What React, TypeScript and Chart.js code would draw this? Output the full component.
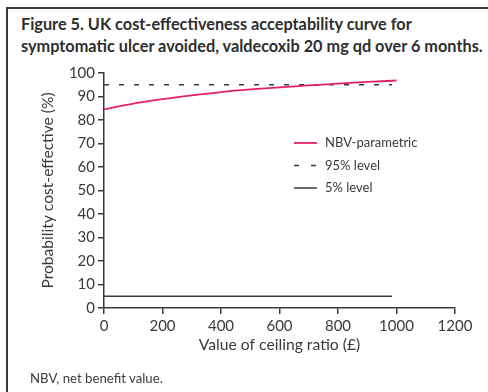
import React, { useEffect, useRef } from "react";
import { Chart, registerables } from "chart.js";

Chart.register(...registerables);

// Ceiling ratio (£) at which the probability was evaluated
const ceilingRatios = [0, 100, 200, 300, 400, 500, 600, 700, 800, 900, 1000];
// Probability cost-effective (%) for the NBV-parametric approach
const nbvParametric = [84.5, 87.0, 88.9, 90.5, 91.9, 93.0, 93.9, 94.7, 95.5, 96.2, 96.8];
// Reference levels drawn across the ceiling range
const levelRange = [0, 985];
const upperLevel = 95;
const lowerLevel = 5;

const xTicks = { min: 0, max: 1200, step: 200 };
const yTicks = { min: 0, max: 100, step: 10 };

const seriesLabels = ["NBV-parametric", "95% level", "5% level"];

const INK = "#3a3a3a";
const PINK = "#e3245c";
const FONT = "Lato";

// Legend drawn inside the plot area, to the right of centre
const insideLegend = {
  id: "insideLegend",
  afterDatasetsDraw(chart: any) {
    const { ctx, chartArea } = chart;
    const x0 = chartArea.left + 190;
    const sampleLen = 23;
    const y0 = chartArea.top + 70;
    const rowGap = 22.5;
    ctx.save();
    ctx.font = `13px ${FONT}`;
    ctx.textBaseline = "middle";
    ctx.fillStyle = INK;
    chart.data.datasets.forEach((ds: any, i: number) => {
      const y = y0 + i * rowGap;
      ctx.beginPath();
      ctx.strokeStyle = ds.borderColor;
      ctx.lineWidth = ds.borderWidth;
      if (ds.borderDash && ds.borderDash.length) {
        ctx.setLineDash([5, 12]);
      } else {
        ctx.setLineDash([]);
      }
      ctx.moveTo(x0, y);
      ctx.lineTo(x0 + sampleLen, y);
      ctx.stroke();
      ctx.setLineDash([]);
      ctx.fillText(ds.label, x0 + sampleLen + 8, y);
    });
    ctx.restore();
  },
};

export default function App() {
  const ref = useRef<HTMLCanvasElement>(null);

  useEffect(() => {
    if (!ref.current) return;
    const curve = ceilingRatios.map((x, i) => ({ x, y: nbvParametric[i] }));
    const upper = levelRange.map((x) => ({ x, y: upperLevel }));
    const lower = levelRange.map((x) => ({ x, y: lowerLevel }));

    const axisCommon = {
      grid: {
        drawOnChartArea: false,
        drawTicks: true,
        tickLength: 6,
        color: INK,
        lineWidth: 1.5,
      },
      border: { display: true, color: INK, width: 1.5 },
    };

    const plainNumber = (v: number | string) => String(v);

    const chart = new Chart(ref.current, {
      type: "line",
      data: {
        datasets: [
          {
            label: seriesLabels[0],
            data: curve,
            borderColor: PINK,
            borderWidth: 1.8,
            pointRadius: 0,
            cubicInterpolationMode: "monotone",
          },
          {
            label: seriesLabels[1],
            data: upper,
            borderColor: INK,
            borderWidth: 1.5,
            borderDash: [5, 10],
            pointRadius: 0,
          },
          {
            label: seriesLabels[2],
            data: lower,
            borderColor: INK,
            borderWidth: 1.5,
            pointRadius: 0,
          },
        ],
      },
      options: {
        responsive: false,
        animation: false,
        layout: { padding: { left: 35, top: 73, right: 33, bottom: 34 } },
        plugins: {
          legend: { display: false },
          tooltip: { enabled: false },
          title: { display: false },
        },
        scales: {
          x: {
            type: "linear",
            min: xTicks.min,
            max: xTicks.max,
            ticks: {
              stepSize: xTicks.step,
              color: INK,
              font: { family: FONT, size: 15 },
              padding: 3,
              maxRotation: 0,
              callback: plainNumber,
            },
            title: {
              display: true,
              text: "Value of ceiling ratio (£)",
              color: INK,
              font: { family: FONT, size: 15.7 },
              padding: { top: 4, bottom: 4 },
            },
            afterFit(scale: any) {
              scale.height = 50;
            },
            ...axisCommon,
          },
          y: {
            type: "linear",
            min: yTicks.min,
            max: yTicks.max,
            ticks: {
              stepSize: yTicks.step,
              color: INK,
              font: { family: FONT, size: 15 },
              padding: 3,
              callback: plainNumber,
            },
            title: {
              display: true,
              text: "Probability cost-effective (%)",
              color: INK,
              font: { family: FONT, size: 15.6 },
              padding: { top: 4, bottom: 4 },
            },
            afterFit(scale: any) {
              scale.width = 69;
            },
            ...axisCommon,
          },
        },
      },
      plugins: [insideLegend],
    } as any);
    return () => chart.destroy();
  }, []);

  return (
    <div
      style={{
        position: "fixed",
        left: 0,
        top: 0,
        width: 488,
        height: 392,
        background: "#fff",
        overflow: "hidden",
        fontFamily: FONT,
        color: INK,
      }}
    >
      <div
        style={{
          position: "absolute",
          left: 6,
          top: 7,
          width: 500,
          height: 400,
          borderLeft: "2px solid #3c3c3c",
          borderTop: "2px solid #3c3c3c",
        }}
      />
      <div
        style={{
          position: "absolute",
          left: 21,
          top: 13,
          font: `bold 16.3px ${FONT}`,
          lineHeight: "22px",
          whiteSpace: "nowrap",
          color: "#2e2e2e",
        }}
      >
        Figure 5. UK cost-effectiveness acceptability curve for
        <br />
        symptomatic ulcer avoided, valdecoxib 20 mg qd over 6 months.
      </div>
      <canvas
        ref={ref}
        width={488}
        height={392}
        style={{ position: "absolute", left: 0, top: 0 }}
      />
      <div
        style={{
          position: "absolute",
          left: 30,
          top: 370,
          font: `13.2px ${FONT}`,
          lineHeight: "16px",
          whiteSpace: "nowrap",
        }}
      >
        NBV, net benefit value.
      </div>
    </div>
  );
}
